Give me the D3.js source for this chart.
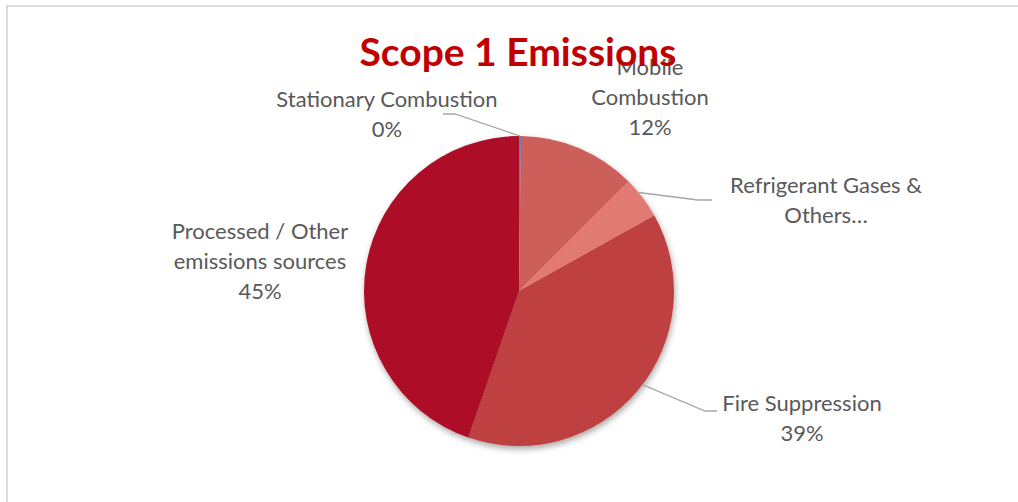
<!DOCTYPE html>
<html>
<head>
<meta charset="utf-8">
<script src="https://cdn.jsdelivr.net/npm/d3@7"></script>
<style>
  html, body { margin: 0; padding: 0; background: #fff; }
  svg { display: block; }
  text { font-family: Lato, "Noto Sans", sans-serif; }
</style>
</head>
<body>
<svg id="chart" width="1018" height="502"></svg>
<script>
// slices, clockwise from 12 o'clock
var categories = ['Stationary Combustion', 'Mobile Combustion', 'Refrigerant Gases & Others', 'Fire Suppression', 'Processed / Other emissions sources']
var shares = [0.2, 12.3, 4.4, 38.4, 44.7]
var percentLabels = ['0%', '12%', null, '39%', '45%']
var sliceColors = ['#4f81c7', '#cd5e5a', '#e07a72', '#bf3f3f', '#ad0c28']

var svg = d3.select('#chart')
var W = 1018, H = 502
var cx = 519, cy = 291, r = 155

// plot area frame (only top and left edges visible)
svg.append('path')
  .attr('d', 'M7,' + H + 'V6H' + W)
  .attr('fill', 'none')
  .attr('stroke', '#d0d0d0')
  .attr('stroke-width', 1.5)

var defs = svg.append('defs')
var f = defs.append('filter').attr('id', 'shadow').attr('x', '-20%').attr('y', '-20%').attr('width', '140%').attr('height', '140%')
f.append('feGaussianBlur').attr('in', 'SourceAlpha').attr('stdDeviation', 3)
f.append('feOffset').attr('dx', 1).attr('dy', 3).attr('result', 'b')
f.append('feComponentTransfer').append('feFuncA').attr('type', 'linear').attr('slope', 0.35)
var m = f.append('feMerge')
m.append('feMergeNode')
m.append('feMergeNode').attr('in', 'SourceGraphic')

var data = categories.map(function (c, i) {
  return { name: c, value: shares[i], color: sliceColors[i], pct: percentLabels[i] }
})

var pie = d3.pie().sort(null).value(function (d) { return d.value })
var arc = d3.arc().innerRadius(0).outerRadius(r)
var arcs = pie(data)

var g = svg.append('g').attr('transform', 'translate(' + cx + ',' + cy + ')')
g.append('g').attr('filter', 'url(#shadow)')
  .selectAll('path').data(arcs).enter().append('path')
  .attr('d', arc)
  .attr('fill', function (d) { return d.data.color })

// leader lines: from the slice edge to the label
function edgePoint (d, frac) {
  var a = d.startAngle + (d.endAngle - d.startAngle) * frac
  return [cx + Math.sin(a) * r, cy - Math.cos(a) * r]
}
var leaders = [
  { slice: 0, frac: 0.5, pts: [[455, 114], [443, 114]] },
  { slice: 2, frac: 0.35, pts: [[698, 200], [712, 200]] },
  { slice: 3, frac: 0.48, pts: [[705, 411], [717, 411]] }
]
leaders.forEach(function (l) {
  var p = [edgePoint(arcs[l.slice], l.frac)].concat(l.pts)
  svg.append('path')
    .attr('d', d3.line()(p))
    .attr('fill', 'none')
    .attr('stroke', '#a6a6a6')
    .attr('stroke-width', 1.3)
})

// data labels
var labelLines = [
  { x: 387, y: 107, lines: ['Stationary Combustion', percentLabels[0]] },
  { x: 650, y: 75, lines: ['Mobile', 'Combustion', percentLabels[1]] },
  { x: 826, y: 193, lines: ['Refrigerant Gases &', 'Others\u2026'] },
  { x: 802, y: 411, lines: ['Fire Suppression', percentLabels[3]] },
  { x: 260, y: 239, lines: ['Processed / Other', 'emissions sources', percentLabels[4]] }
]
labelLines.forEach(function (l) {
  var t = svg.append('text')
    .attr('text-anchor', 'middle')
    .attr('fill', '#595959')
    .attr('font-size', 22)
  l.lines.forEach(function (s, i) {
    t.append('tspan').attr('x', l.x).attr('y', l.y + i * 30).text(s)
  })
})

// title drawn last, over the Mobile label as in the original
svg.append('text')
  .attr('x', 518)
  .attr('y', 66)
  .attr('text-anchor', 'middle')
  .attr('fill', '#c00000')
  .attr('font-size', 39)
  .attr('font-weight', 'bold')
  .text('Scope 1 Emissions')
</script>
</body>
</html>
